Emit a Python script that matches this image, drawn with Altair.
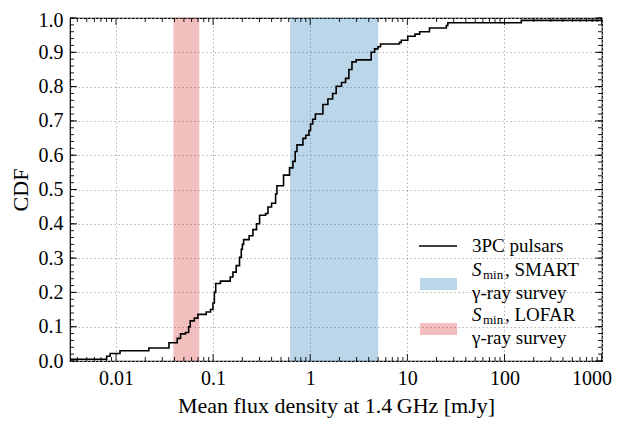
import altair as alt
import pandas as pd

# ---- data ----
flux = [0.00336, 0.0080, 0.0087, 0.0110, 0.0218, 0.0351, 0.0427, 0.0462, 0.0520, 0.0560,
        0.0581, 0.0640, 0.0697, 0.0849, 0.0940, 0.0996, 0.1030, 0.1063, 0.1190, 0.1500,
        0.1600, 0.1730, 0.1870, 0.1950, 0.2000, 0.2060, 0.2350, 0.2570, 0.2800, 0.3010,
        0.3470, 0.3670, 0.4000, 0.4400, 0.4540, 0.5310, 0.6120, 0.6630, 0.7000, 0.7300,
        0.8410, 0.9000, 0.9700, 1.007, 1.060, 1.130, 1.350, 1.520, 1.700, 1.850,
        2.100, 2.310, 2.500, 2.690, 2.970, 4.240, 4.600, 4.980, 5.300, 8.300,
        8.660, 10.10, 12.00, 13.40, 16.90, 25.20, 26.10, 149.0, 1000]
cdf = [0.005, 0.014, 0.022, 0.030, 0.038, 0.053, 0.066, 0.079, 0.083, 0.100,
       0.117, 0.125, 0.136, 0.143, 0.150, 0.169, 0.200, 0.226, 0.233, 0.245,
       0.259, 0.278, 0.302, 0.326, 0.340, 0.354, 0.365, 0.383, 0.400, 0.425,
       0.430, 0.449, 0.460, 0.487, 0.511, 0.542, 0.563, 0.582, 0.611, 0.630,
       0.649, 0.658, 0.672, 0.691, 0.705, 0.720, 0.748, 0.764, 0.780, 0.801,
       0.812, 0.824, 0.850, 0.872, 0.878, 0.900, 0.910, 0.916, 0.924, 0.929,
       0.935, 0.947, 0.953, 0.960, 0.971, 0.978, 0.986, 0.993, 1.000]

band_names = ["LOFAR", "SMART"]
band_lo = [0.039, 0.62]
band_hi = [0.072, 5.0]
band_colors = ["#d62728", "#1f77b4"]

x_major = [0.01, 0.1, 1, 10, 100, 1000]
x_minor = [m * 10.0 ** e for e in range(-3, 3) for m in range(2, 10) if 0.0034 <= m * 10.0 ** e <= 1000]
y_major = [round(i * 0.1, 1) for i in range(11)]
y_minor = [round(i * 0.02, 2) for i in range(51)]

x_title = "Mean flux density at 1.4\u2009GHz [mJy]"
y_title = "CDF"
legend_line_label = "3PC pulsars"
legend_band_second = "\u03b3-ray survey"

W, H = 532, 343
TOP = 10
FONT = "Liberation Serif"

xs = alt.Scale(type="log", domain=[0.00336, 1010], nice=False)
ys = alt.Scale(domain=[0, 1], nice=False, zero=False)

df_line = pd.DataFrame({"flux": flux, "cdf": cdf})
df_band = pd.DataFrame({"name": band_names, "lo": band_lo, "hi": band_hi, "c": band_colors})
dummy = pd.DataFrame({"a": [0]})

x_axis = alt.Axis(values=x_major, format="~g", title=x_title, grid=True, ticks=False,
                  domain=False, labelPadding=7, titlePadding=7, labelFontSize=20,
                  titleFontSize=22, gridDash=[1.5, 2.5], gridColor="#aaaaaa", gridWidth=0.9,
                  labelFlush=False,
                  labelAlign={"condition": {"test": "datum.value >= 1000", "value": "right"},
                              "value": "center"},
                  labelOffset={"condition": {"test": "datum.value >= 1000", "value": 10},
                               "value": 0})
y_axis = alt.Axis(values=y_major, format=".1f", title=y_title, grid=True, ticks=False,
                  domain=False, labelPadding=7, titlePadding=6, labelFontSize=20,
                  titleFontSize=22, gridDash=[1.5, 2.5], gridColor="#aaaaaa", gridWidth=0.9,
                  labelFlush=False,
                  labelOffset={"condition": {"test": "datum.value >= 1", "value": 2},
                               "value": 0})

bands = alt.Chart(df_band).mark_rect(opacity=0.3).encode(
    x=alt.X("lo:Q", scale=xs, axis=x_axis),
    x2="hi:Q",
    color=alt.Color("c:N", scale=None),
)

line = alt.Chart(df_line).mark_line(interpolate="step-after", color="black",
                                    strokeWidth=1.6, clip=True).encode(
    x=alt.X("flux:Q", scale=xs, axis=x_axis),
    y=alt.Y("cdf:Q", scale=ys, axis=y_axis),
)


def xticks(vals, length, top):
    d = pd.DataFrame({"v": vals})
    if top:
        yy = dict(y=alt.value(0), y2=alt.value(length))
    else:
        yy = dict(y=alt.value(H), y2=alt.value(H - length))
    return alt.Chart(d).mark_rule(color="black", strokeWidth=0.9, clip=True).encode(
        x=alt.X("v:Q", scale=xs, axis=x_axis), **yy)


def yticks(vals, length, right):
    d = pd.DataFrame({"v": vals})
    if right:
        xx = dict(x=alt.value(W), x2=alt.value(W - length))
    else:
        xx = dict(x=alt.value(0), x2=alt.value(length))
    return alt.Chart(d).mark_rule(color="black", strokeWidth=0.9).encode(
        y=alt.Y("v:Q", scale=ys, axis=y_axis), **xx)


ticks = [
    xticks(x_major, 7, False), xticks(x_major, 7, True),
    xticks(x_minor, 4, False), xticks(x_minor, 4, True),
    yticks(y_major, 7, False), yticks(y_major, 7, True),
    yticks(y_minor, 4, False), yticks(y_minor, 4, True),
]

# ---- legend (drawn by hand to allow S_min with subscript) ----
LX = 349
OFF = 10 - (8 + TOP)   # keep legend at the reference's page position
leg = []
leg.append(alt.Chart(dummy).mark_rule(color="black", strokeWidth=1.6).encode(
    x=alt.value(LX), x2=alt.value(LX + 38), y=alt.value(236 + OFF)))
leg.append(alt.Chart(dummy).mark_text(text=legend_line_label, align="left", baseline="alphabetic",
                                      font=FONT, fontSize=19, color="black").encode(
    x=alt.value(LX + 53), y=alt.value(242 + OFF)))

for name, col, ry, by in [(band_names[1], band_colors[1], 268, 266),
                          (band_names[0], band_colors[0], 313, 311)]:
    leg.append(alt.Chart(dummy).mark_rect(color=col, opacity=0.3).encode(
        x=alt.value(LX + 1), x2=alt.value(LX + 38), y=alt.value(ry + OFF),
        y2=alt.value(ry + 12 + OFF)))
    leg.append(alt.Chart(dummy).mark_text(text="S", align="left", baseline="alphabetic",
                                          font=FONT, fontSize=19, fontStyle="italic",
                                          color="black").encode(
        x=alt.value(LX + 53), y=alt.value(by + OFF)))
    leg.append(alt.Chart(dummy).mark_text(text="min", align="left", baseline="alphabetic",
                                          font=FONT, fontSize=13, color="black").encode(
        x=alt.value(LX + 64), y=alt.value(by + 3 + OFF)))
    leg.append(alt.Chart(dummy).mark_text(text=", " + name, align="left", baseline="alphabetic",
                                          font=FONT, fontSize=19, color="black").encode(
        x=alt.value(LX + 86), y=alt.value(by + OFF)))
    leg.append(alt.Chart(dummy).mark_text(text=legend_band_second, align="left",
                                          baseline="alphabetic", font=FONT, fontSize=19,
                                          color="black").encode(
        x=alt.value(LX + 53), y=alt.value(by + 23 + OFF)))

chart = alt.layer(bands, line, *ticks, *leg).properties(
    width=W, height=H,
    autosize=alt.AutoSizeParams(type="none"),
    padding={"left": 62, "top": TOP, "right": 10, "bottom": 413 - TOP - H},
).configure_view(stroke="black", strokeWidth=1.2).configure_axis(
    labelFont=FONT, titleFont=FONT, labelColor="black", titleColor="black",
    titleFontWeight="normal",
)

chart.save("out.html", embed_options={"renderer": "svg", "actions": False})
